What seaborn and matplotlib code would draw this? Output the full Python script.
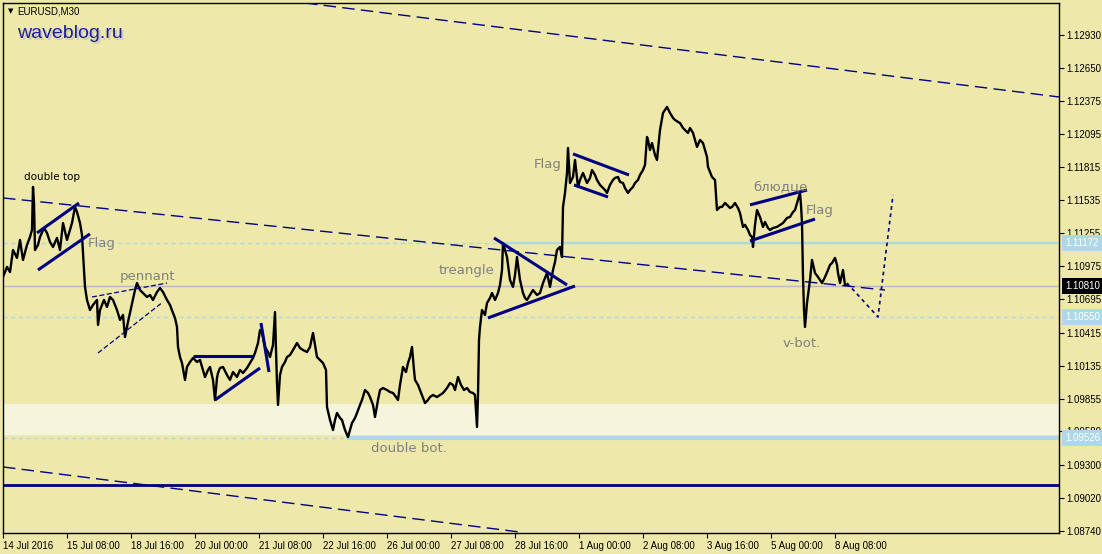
import matplotlib
matplotlib.use("Agg")
import matplotlib.pyplot as plt
import matplotlib.transforms as mtrans
import pandas as pd
import seaborn as sns

# ---------------- data (bar index = 30-minute bar number, price) ----------------
bar = [0, 4, 7, 10, 14, 17, 20, 24, 27, 29, 30, 31, 32, 35, 37, 41, 44, 47, 50, 54, 57, 60, 64, 67, 69, 72, 74, 77, 79, 80,
       82, 84, 87, 90, 94, 95, 97, 101, 104, 107, 110, 114, 117, 120, 122, 125, 127, 130, 132, 134, 137, 140, 144, 147, 150,
       154, 157, 160, 164, 167, 170, 172, 174, 175, 177, 179, 182, 184, 187, 190, 194, 197, 200, 202, 205, 207, 210, 212,
       214, 215, 217, 220, 224, 227, 230, 234, 237, 240, 244, 247, 250, 252, 255, 257, 259, 262, 265, 267, 270, 272, 273,
       274, 275, 277, 279, 282, 284, 287, 290, 294, 297, 300, 304, 307, 310, 312, 314, 317, 320, 323, 324, 327, 330, 332,
       334, 337, 339, 342, 345, 347, 349, 352, 354, 357, 359, 362, 365, 367, 370, 372, 375, 377, 380, 384, 387, 390, 393,
       395, 397, 400, 403, 405, 407, 409, 411, 412, 415, 417, 420, 422, 425, 427, 430, 434, 437, 440, 444, 447, 450, 452,
       455, 458, 461, 464, 467, 470, 472, 474, 475, 476, 477, 479, 482, 484, 487, 489, 492, 495, 497, 499, 500, 502, 504,
       507, 510, 512, 514, 517, 520, 522, 524, 527, 530, 534, 537, 540, 542, 544, 547, 550, 552, 554, 557, 559, 560, 562,
       564, 565, 567, 570, 572, 575, 577, 580, 584, 587, 589, 592, 594, 597, 599, 602, 604, 607, 610, 612, 615, 617, 620,
       622, 625, 627, 630, 632, 635, 637, 640, 642, 644, 645, 647, 649, 652, 654, 657, 660, 662, 664, 667, 670, 672, 675,
       677, 680, 682, 685, 687, 690, 692, 694, 697, 700, 702, 704, 705, 707, 709, 712, 713, 714, 717, 719, 722, 724, 727,
       729, 732, 735, 737, 740, 742, 745, 747, 749, 750, 752, 754, 757, 760, 762, 765, 767, 770, 774, 777, 780, 784, 787,
       790, 792, 795, 797, 798, 799, 800, 801, 802, 804, 807, 809, 812, 815, 817, 819, 822, 825, 827, 829, 832, 834, 835,
       837, 840, 842, 844]
close = [1.10885, 1.10970, 1.10927, 1.11113, 1.11046, 1.11198, 1.11029, 1.11156, 1.11223, 1.11282, 1.11646, 1.11510,
         1.11113, 1.11156, 1.11223, 1.11299, 1.11257, 1.11181, 1.11139, 1.11215, 1.11113, 1.11341, 1.11198, 1.11282,
         1.11341, 1.11477, 1.11434, 1.11341, 1.11240, 1.11088, 1.10801, 1.10691, 1.10606, 1.10649, 1.10691, 1.10480,
         1.10606, 1.10691, 1.10632, 1.10716, 1.10691, 1.10606, 1.10522, 1.10564, 1.10378, 1.10505, 1.10581, 1.10691,
         1.10775, 1.10834, 1.10775, 1.10750, 1.10716, 1.10733, 1.10691, 1.10758, 1.10792, 1.10758, 1.10691, 1.10649,
         1.10581, 1.10539, 1.10463, 1.10294, 1.10209, 1.10158, 1.10015, 1.10125, 1.10167, 1.10201, 1.10167, 1.10184,
         1.10099, 1.10040, 1.10099, 1.10125, 1.10015, 1.09846, 1.10032, 1.10074, 1.10116, 1.10125, 1.10057, 1.10015,
         1.10082, 1.10040, 1.10099, 1.10074, 1.10116, 1.10158, 1.10201, 1.10243, 1.10327, 1.10437, 1.10412, 1.10294,
         1.10251, 1.10209, 1.10311, 1.10589, 1.10268, 1.09989, 1.09804, 1.10057, 1.10125, 1.10167, 1.10209, 1.10226,
         1.10268, 1.10327, 1.10285, 1.10268, 1.10251, 1.10294, 1.10412, 1.10311, 1.10209, 1.10184, 1.10158, 1.10099,
         1.09787, 1.09677, 1.09592, 1.09677, 1.09736, 1.09694, 1.09677, 1.09592, 1.09533, 1.09592, 1.09651, 1.09694,
         1.09736, 1.09804, 1.09846, 1.09930, 1.09905, 1.09871, 1.09804, 1.09702, 1.09846, 1.09930, 1.09947, 1.09930,
         1.09913, 1.09905, 1.09871, 1.09846, 1.09973, 1.10125, 1.10082, 1.10158, 1.10209, 1.10294, 1.10099, 1.10015,
         1.09973, 1.09930, 1.09863, 1.09820, 1.09846, 1.09871, 1.09888, 1.09871, 1.09888, 1.09905, 1.09947, 1.09989,
         1.09973, 1.09930, 1.10040, 1.09973, 1.09930, 1.09947, 1.09913, 1.09905, 1.09888, 1.09618, 1.09888, 1.10353,
         1.10463, 1.10606, 1.10564, 1.10665, 1.10708, 1.10750, 1.10691, 1.10750, 1.10818, 1.10944, 1.11172, 1.11113,
         1.11054, 1.10860, 1.10801, 1.10902, 1.11054, 1.10860, 1.10750, 1.10708, 1.10691, 1.10733, 1.10775, 1.10733,
         1.10750, 1.10834, 1.10877, 1.10919, 1.10801, 1.10944, 1.11012, 1.11113, 1.11139, 1.11054, 1.11477, 1.11595,
         1.11764, 1.11975, 1.11679, 1.11730, 1.11874, 1.11646, 1.11705, 1.11764, 1.11679, 1.11722, 1.11789, 1.11747,
         1.11705, 1.11663, 1.11646, 1.11620, 1.11595, 1.11663, 1.11705, 1.11722, 1.11730, 1.11688, 1.11679, 1.11637,
         1.11595, 1.11620, 1.11646, 1.11679, 1.11705, 1.11747, 1.11789, 1.11832, 1.12068, 1.12043, 1.11958, 1.12017,
         1.11916, 1.11874, 1.12127, 1.12271, 1.12296, 1.12322, 1.12271, 1.12229, 1.12212, 1.12195, 1.12186, 1.12144,
         1.12127, 1.12102, 1.12144, 1.12102, 1.12043, 1.11984, 1.12043, 1.12017, 1.11958, 1.11899, 1.11815, 1.11772,
         1.11730, 1.11705, 1.11578, 1.11451, 1.11477, 1.11477, 1.11510, 1.11494, 1.11468, 1.11477, 1.11510, 1.11468,
         1.11426, 1.11308, 1.11325, 1.11282, 1.11240, 1.11223, 1.11139, 1.11325, 1.11451, 1.11392, 1.11308, 1.11350,
         1.11299, 1.11282, 1.11299, 1.11308, 1.11325, 1.11341, 1.11384, 1.11392, 1.11434, 1.11451, 1.11536, 1.11595,
         1.11494, 1.11341, 1.10885, 1.10606, 1.10463, 1.10665, 1.10860, 1.11029, 1.10919, 1.10885, 1.10860, 1.10834,
         1.10885, 1.10944, 1.10987, 1.11003, 1.11046, 1.10987, 1.10919, 1.10834, 1.10944, 1.10818, 1.10818]

xtick_bars = [0, 64, 128, 192, 256, 320, 384, 448, 512, 576, 640, 704, 768, 832]
xtick_labels = ["14 Jul 2016", "15 Jul 08:00", "18 Jul 16:00", "20 Jul 00:00", "21 Jul 08:00", "22 Jul 16:00",
                "26 Jul 00:00", "27 Jul 08:00", "28 Jul 16:00", "1 Aug 00:00", "2 Aug 08:00", "3 Aug 16:00",
                "5 Aug 00:00", "8 Aug 08:00"]
ytick_values = [1.12930, 1.12650, 1.12375, 1.12095, 1.11815, 1.11535, 1.11255, 1.10975, 1.10695, 1.10415,
                1.10135, 1.09855, 1.09580, 1.09300, 1.09020, 1.08740]

# horizontal levels
level_blue_upper = 1.11172
level_blue_mid = 1.10550
level_blue_low = 1.09526
level_bid = 1.10810
level_navy = 1.09128
zone_low, zone_high = 1.09550, 1.09812

# channel lines (bar, price) endpoints
channel_top = ([302, 1056], [1.13200, 1.12406])
channel_mid = ([0, 882], [1.11553, 1.10775])
channel_low = ([0, 517], [1.09280, 1.08730])

# pattern lines
flag1_up = ([34, 76], [1.11257, 1.11510])
flag1_dn = ([35, 87], [1.10944, 1.11249])
pennant_up = ([89, 164], [1.10716, 1.10834])
pennant_dn = ([95, 160], [1.10243, 1.10674])
box_top = ([190, 250], [1.10218, 1.10218])
box_rise = ([212, 257], [1.09846, 1.10116])
wedge_fall = ([258, 266], [1.10496, 1.10082])
tri_up = ([491, 564], [1.11215, 1.10818])
tri_dn = ([485, 572], [1.10539, 1.10809])
flag2_up = ([570, 626], [1.11925, 1.11747])
flag2_dn = ([571, 605], [1.11663, 1.11561])
saucer_up = ([747, 804], [1.11494, 1.11620])
saucer_dn = ([747, 812], [1.11189, 1.11375])
forecast = ([844, 875, 890], [1.10834, 1.10547, 1.11578])

labels = [("double top", 21, 1.11730, "black", 7.5),
          ("Flag", 85, 1.11164, "#808080", 9.5),
          ("pennant", 117, 1.10893, "#808080", 9.5),
          ("treangle", 436, 1.10944, "#808080", 9.5),
          ("Flag", 531, 1.11832, "#808080", 9.5),
          ("блюдце", 750, 1.11646, "#808080", 9.5),
          ("Flag", 803, 1.11443, "#808080", 9.5),
          ("v-bot.", 780, 1.10327, "#808080", 9.5),
          ("double bot.", 368, 1.09432, "#808080", 9.5)]

# ---------------- style ----------------
BG = "#EEE8AA"
NAVY = "#000080"
LBLUE = "#ADD8E6"
sns.set_theme(style="white")
plt.rcParams["font.family"] = ["DejaVu Sans"]
AXFONT = ["Liberation Sans", "DejaVu Sans"]

W, H = 1102, 554
fig = plt.figure(figsize=(W / 100, H / 100), dpi=100, facecolor=BG)
ax = fig.add_axes([3 / W, (H - 533) / H, (1059 - 3) / W, (533 - 3) / H])
ax.set_facecolor(BG)
ax.set_xlim(0, 1056)
ax.set_ylim(1.08722, 1.13200)

# zone rectangle
ax.axhspan(zone_low, zone_high, color="#F5F4DC", zorder=1, lw=0)

# horizontal levels
ax.axhline(level_blue_upper, color=LBLUE, lw=1, ls=(0, (3, 2.5)), zorder=2)
ax.plot([500, 1056], [level_blue_upper, level_blue_upper], color=LBLUE, lw=1.6, zorder=2)
ax.axhline(level_blue_mid, color=LBLUE, lw=1, ls=(0, (3, 2.5)), zorder=2)
ax.axhline(level_blue_low, color=LBLUE, lw=1, ls=(0, (3, 2.5)), zorder=2)
ax.plot([345, 1056], [level_blue_low, level_blue_low], color=LBLUE, lw=3, zorder=2)
ax.axhline(level_bid, color="#B8B8C0", lw=1, zorder=2)
ax.axhline(level_navy, color=NAVY, lw=2, zorder=2)

# channels
for xs, ys in (channel_top, channel_mid, channel_low):
    ax.plot(xs, ys, color=NAVY, lw=1, ls=(0, (9, 4.5)), zorder=3)

# price line
df = pd.DataFrame({"bar": bar, "close": close})
sns.lineplot(data=df, x="bar", y="close", color="black", lw=1.7, estimator=None, sort=False, ax=ax, zorder=4)

# pattern lines
for xs, ys in (flag1_up, flag1_dn, box_top, box_rise, wedge_fall, tri_up, tri_dn, flag2_up, flag2_dn,
               saucer_up, saucer_dn):
    ax.plot(xs, ys, color=NAVY, lw=2.2, solid_capstyle="butt", zorder=5)
for xs, ys in (pennant_up, pennant_dn):
    ax.plot(xs, ys, color=NAVY, lw=0.9, ls=(0, (4, 2)), zorder=5)
ax.plot(forecast[0], forecast[1], color=NAVY, lw=1.2, ls=(0, (2.2, 2.2)), zorder=5)

for txt, bx, py, col, fs in labels:
    ax.text(bx, py, txt, color=col, fontsize=fs, ha="left", va="center", zorder=6)

# axes ticks
ax.yaxis.tick_right()
ax.set_yticks(ytick_values)
ax.set_yticklabels([f"{v:.5f}" for v in ytick_values], family=AXFONT)
ax.set_xticks(xtick_bars)
ax.set_xticklabels(xtick_labels, ha="left", family=AXFONT)
ax.tick_params(axis="both", which="major", direction="out", length=3.5, width=0.8, color="black",
               labelsize=7, pad=1.5, labelcolor="black")
ax.tick_params(axis="y", right=True, left=False, pad=2)
ax.tick_params(axis="x", bottom=True, pad=2)
for s in ax.spines.values():
    s.set_color("black")
    s.set_linewidth(1)
ax.set_xlabel("")
ax.set_ylabel("")

# highlighted price labels on the right axis
trans = mtrans.blended_transform_factory(ax.transAxes, ax.transData)
for val, fc in ((level_blue_upper, LBLUE), (level_bid, "black"), (level_blue_mid, LBLUE), (level_blue_low, LBLUE)):
    ax.annotate(f"{val:.5f}", xy=(1.0, val), xycoords=trans, xytext=(4.5, 0), textcoords="offset points",
                ha="left", va="center", fontsize=7, color="white", annotation_clip=False, zorder=10,
                family=AXFONT, bbox=dict(boxstyle="square,pad=0.3", fc=fc, ec="none"))

# header texts
fig.text(8 / W, 1 - 11 / H, "▼", fontsize=5, color="black", va="center", ha="left")
fig.text(17 / W, 1 - 11 / H, "EURUSD,M30", fontsize=7, color="black", va="center", ha="left", family=AXFONT)
fig.text(19.5 / W, 1 - 35.5 / H, "waveblog.ru", fontsize=14, color="#C8C8C8", va="center", ha="left",
         family=AXFONT)
fig.text(17.5 / W, 1 - 33.5 / H, "waveblog.ru", fontsize=14, color="#1E1E96", va="center", ha="left",
         family=AXFONT)

fig.savefig("out.png", dpi=100, facecolor=BG)
